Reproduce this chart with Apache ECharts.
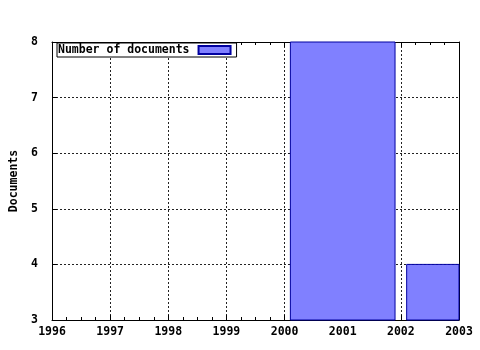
<!DOCTYPE html>
<html>
<head>
<meta charset="utf-8">
<script src="https://cdn.jsdelivr.net/npm/echarts@6/dist/echarts.min.js"></script>
<style>html,body{margin:0;padding:0;background:#fff}#c{width:480px;height:350px}</style>
</head>
<body>
<div id="c"></div>
<script>
var years = [2001, 2003];
var documents = [8, 4];
var boxWidth = 1.8;
var xMin = 1996, xMax = 2003;
var yMin = 3, yMax = 8;
var seriesName = 'Number of documents';

var font = 'DejaVu Sans Mono';
var chart = echarts.init(document.getElementById('c'), null, {renderer: 'canvas'});
var labelStyle = {color: '#000', fontFamily: font, fontWeight: 'bold', fontSize: 11.5};
var gridLine = {show: true, lineStyle: {color: '#222', type: [2, 2], width: 1}};
function xAx(pos, labels) {
  return {
    type: 'value', position: pos, min: xMin, max: xMax, interval: 1,
    axisLine: {show: true, onZero: false, lineStyle: {color: '#000', width: 1}},
    axisTick: {show: true, inside: true, length: 5, lineStyle: {color: '#000'}},
    minorTick: {show: true, splitNumber: 4, length: 3, lineStyle: {color: '#000'}},
    axisLabel: labels ? Object.assign({show: true, margin: 6, formatter: function (v) { return String(v); }}, labelStyle) : {show: false},
    splitLine: labels ? gridLine : {show: false}
  };
}
function yAx(pos, labels) {
  return {
    type: 'value', position: pos, min: yMin, max: yMax, interval: 1,
    name: labels ? 'Documents' : '', nameLocation: 'middle', nameGap: 31, nameRotate: 90,
    nameTextStyle: labelStyle,
    axisLine: {show: true, onZero: false, lineStyle: {color: '#000', width: 1}},
    axisTick: {show: labels, inside: true, length: 5, lineStyle: {color: '#000'}},
    axisLabel: labels ? Object.assign({show: true, margin: 14}, labelStyle) : {show: false},
    splitLine: labels ? gridLine : {show: false}
  };
}
var data = years.map(function (y, i) { return [y, documents[i]]; });
chart.setOption({
  animation: false,
  grid: {left: 52, right: 21, top: 42, bottom: 30, containLabel: false, outerBoundsMode: 'none'},
  xAxis: [xAx('bottom', true), xAx('top', false)],
  yAxis: [yAx('left', true), yAx('right', false)],
  legend: {
    show: true, left: 57, top: 43, orient: 'horizontal', align: 'right',
    padding: [1, 5, 1, 1], itemGap: 0, itemWidth: 32, itemHeight: 8,
    borderColor: '#000', borderWidth: 1, backgroundColor: '#fff',
    textStyle: {color: '#000', fontFamily: font, fontWeight: 'bold', fontSize: 11.5, padding: [0, 4, 0, 0]},
    data: [{name: seriesName, icon: 'rect'}]
  },
  series: [{
    name: seriesName, type: 'custom',
    itemStyle: {color: '#8080ff', borderColor: '#0000a0', borderWidth: 1},
    renderItem: function (params, api) {
      var x = api.value(0), v = api.value(1);
      var p1 = api.coord([x - boxWidth / 2, v]);
      var p2 = api.coord([x + boxWidth / 2, yMin]);
      var rect = echarts.graphic.clipRectByRect(
        {x: p1[0], y: p1[1], width: p2[0] - p1[0], height: p2[1] - p1[1]},
        {x: params.coordSys.x, y: params.coordSys.y, width: params.coordSys.width, height: params.coordSys.height});
      if (!rect) return;
      return {type: 'rect', shape: rect, style: {fill: '#8080ff', stroke: '#0000a0', lineWidth: 1}};
    },
    encode: {x: 0, y: 1},
    data: data,
    z: 1
  }]
});
</script>
</body>
</html>
